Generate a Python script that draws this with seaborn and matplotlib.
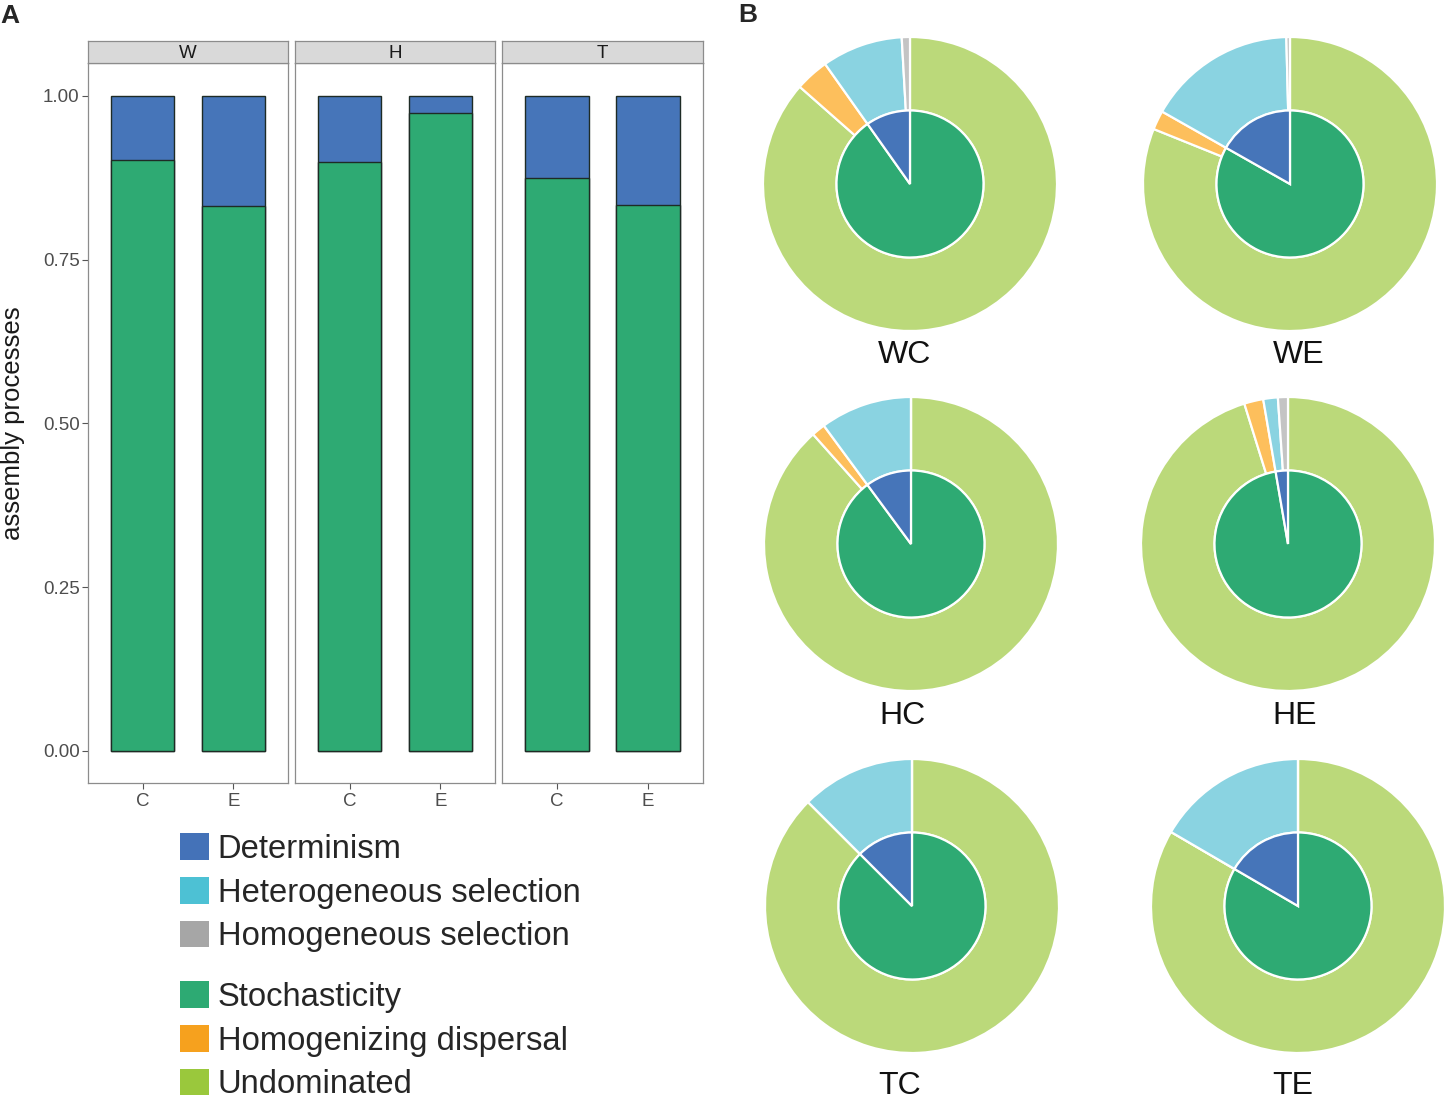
import matplotlib
matplotlib.use("Agg")
import matplotlib.pyplot as plt
from matplotlib.patches import Patch
import seaborn as sns
import pandas as pd

# ---------------- data ----------------
sites = ["W", "H", "T"]
treatments = ["C", "E"]
bar_site = ["W", "W", "H", "H", "T", "T"]
bar_treatment = ["C", "E", "C", "E", "C", "E"]
stochasticity = [0.902, 0.832, 0.899, 0.973, 0.875, 0.834]
determinism = [0.098, 0.168, 0.101, 0.027, 0.125, 0.166]

pie_names = ["WC", "WE", "HC", "HE", "TC", "TE"]
pie_stochasticity = [0.902, 0.832, 0.899, 0.973, 0.875, 0.834]
pie_determinism = [0.098, 0.168, 0.101, 0.027, 0.125, 0.166]
undominated = [0.865, 0.811, 0.884, 0.952, 0.875, 0.834]
homogenizing_dispersal = [0.037, 0.021, 0.015, 0.021, 0.0, 0.0]
heterogeneous_selection = [0.089, 0.164, 0.101, 0.016, 0.125, 0.166]
homogeneous_selection = [0.009, 0.004, 0.0, 0.011, 0.0, 0.0]

legend_group1 = ["Determinism", "Heterogeneous selection", "Homogeneous selection"]
legend_group2 = ["Stochasticity", "Homogenizing dispersal", "Undominated"]

# ---------------- style ----------------
sns.set_theme(style="white")
plt.rcParams["font.family"] = ["Liberation Sans", "DejaVu Sans"]

C_DET = "#4675B9"
C_STO = "#2EAA73"
LEG_COLORS1 = ["#4472B8", "#4DC1D4", "#A6A6A6"]
LEG_COLORS2 = ["#2DAA73", "#F6A11E", "#9AC83C"]
OUTER_COLORS = ["#BBD97A", "#FDBF5C", "#8AD3E1", "#C4C4C4"]

W, H = 1446, 1102
fig = plt.figure(figsize=(W / 100, H / 100), dpi=100)


def fax(x0, y0, x1, y1):
    """add axes from pixel box (top-left origin)"""
    return fig.add_axes([x0 / W, 1 - y1 / H, (x1 - x0) / W, (y1 - y0) / H])


df = pd.DataFrame({"site": bar_site, "treatment": bar_treatment,
                   "Stochasticity": stochasticity, "Determinism": determinism})
df["total"] = df["Stochasticity"] + df["Determinism"]

panel_x = [(88, 288), (295, 495), (502, 703)]
border_col = "#8C8C8C"
for i, s in enumerate(sites):
    x0, x1 = panel_x[i]
    ax = fax(x0, 63, x1, 783)
    sub = df[df["site"] == s]
    sns.barplot(data=sub, x="treatment", y="total", order=treatments, color=C_DET,
                saturation=1, width=0.7, edgecolor="#1E2B25", linewidth=1.0,
                errorbar=None, ax=ax)
    sns.barplot(data=sub, x="treatment", y="Stochasticity", order=treatments, color=C_STO,
                saturation=1, width=0.7, edgecolor="#1E2B25", linewidth=1.0,
                errorbar=None, ax=ax)
    ax.set_xlim(-0.6, 1.6)
    ax.set_ylim(-0.049, 1.05)
    ax.set_xlabel("")
    ax.set_ylabel("")
    for sp in ax.spines.values():
        sp.set_visible(True)
        sp.set_color(border_col)
        sp.set_linewidth(0.9)
    ax.tick_params(axis="x", which="both", bottom=True, length=4, width=0.8,
                   color="#555555", labelsize=13.5, labelcolor="#4D4D4D", pad=3)
    if i == 0:
        ax.set_yticks([0, 0.25, 0.5, 0.75, 1.0])
        ax.set_yticklabels(["0.00", "0.25", "0.50", "0.75", "1.00"])
        ax.tick_params(axis="y", left=True, length=4, width=0.8, color="#555555",
                       labelsize=13.5, labelcolor="#4D4D4D", pad=2)
        ax.set_ylabel("assembly processes", fontsize=18.5, color="#1A1A1A", labelpad=13)
    else:
        ax.set_yticks([])
    # strip
    st = fax(x0, 41, x1, 63)
    st.set_facecolor("#D9D9D9")
    st.set_xticks([])
    st.set_yticks([])
    for sp in st.spines.values():
        sp.set_visible(True)
        sp.set_color(border_col)
        sp.set_linewidth(0.9)
    st.text(0.5, 0.45, s, ha="center", va="center", fontsize=13.5, color="#1A1A1A",
            transform=st.transAxes)

# panel labels
fig.text(10 / W, 1 - 16 / H, "A", fontsize=19, fontweight="bold", ha="center", va="center")
fig.text(748 / W, 1 - 15 / H, "B", fontsize=19, fontweight="bold", ha="center", va="center")

# legends
h1 = [Patch(facecolor=c, edgecolor="none") for c in LEG_COLORS1]
h2 = [Patch(facecolor=c, edgecolor="none") for c in LEG_COLORS2]
common = dict(frameon=False, fontsize=23.6, handlelength=0.88, handleheight=0.88,
              handletextpad=0.27, labelspacing=0.37, borderaxespad=0, borderpad=0,
              loc="upper left")
leg1 = fig.legend(h1, legend_group1, bbox_to_anchor=(180 / W, 1 - 833 / H), **common)
leg2 = fig.legend(h2, legend_group2, bbox_to_anchor=(180 / W, 1 - 981 / H), **common)

# pies
centers = [(910, 184), (1290, 184), (911, 544), (1288, 544), (912, 906), (1298, 906)]
label_pos = [(905, 355), (1299, 355), (902, 716), (1295, 716), (900, 1086), (1293, 1086)]
R = 147
for k, name in enumerate(pie_names):
    cx, cy = centers[k]
    ax = fax(cx - 152, cy - 152, cx + 152, cy + 152)
    outer = [undominated[k], homogenizing_dispersal[k],
             heterogeneous_selection[k], homogeneous_selection[k]]
    ax.pie(outer, colors=OUTER_COLORS, radius=1.0, startangle=90, counterclock=False,
           wedgeprops=dict(width=0.5, edgecolor="white", linewidth=1.6))
    ax.pie([pie_stochasticity[k], pie_determinism[k]], colors=[C_STO, C_DET], radius=0.5,
           startangle=90, counterclock=False,
           wedgeprops=dict(edgecolor="white", linewidth=1.6))
    lim = 152 / R
    ax.set_xlim(-lim, lim)
    ax.set_ylim(-lim, lim)
    ax.set_aspect("equal")
    ax.axis("off")
    lx, ly = label_pos[k]
    fig.text(lx / W, 1 - ly / H, name, fontsize=23, ha="center", va="center", color="#111111")

fig.savefig("out.png", dpi=100)
